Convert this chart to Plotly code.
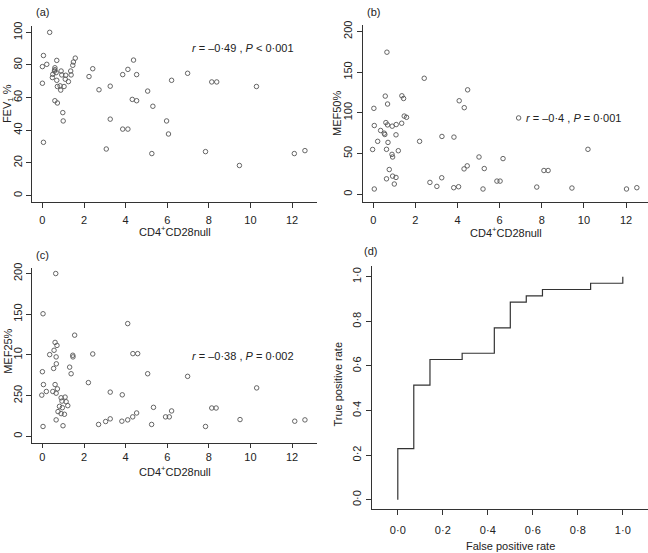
import plotly.graph_objects as go

# panel (a): FEV1 % vs CD4+CD28null
cd28_a = [0.35, 0.05, 0.0, 0.21, 0.0, 0.05, 0.69, 0.6, 0.58, 0.66, 0.5, 0.6, 0.48, 0.69, 0.72,
          0.6, 0.72, 0.98, 1.0, 0.9, 0.93, 0.85, 0.88, 1.04, 1.12, 1.1, 1.25, 1.36, 1.38, 1.46,
          1.49, 1.58, 2.24, 2.42, 2.72, 3.07, 3.26, 3.26, 3.86, 3.86, 4.11, 4.11, 4.32, 4.38,
          4.53, 4.53, 5.06, 5.31, 5.26, 5.97, 6.06, 6.21, 6.98, 7.84, 8.14, 8.38, 9.47, 10.29,
          12.11, 12.62]
fev1 = [100, 85.8, 79, 80.4, 68.8, 32.6, 82.8, 78.3, 76.3, 75.3, 74.3, 77.1, 72.3, 70.6, 66.8,
        58.1, 56.7, 50.8, 45.7, 76.3, 73.9, 67.2, 64.6, 66.8, 73.7, 71.3, 69.8, 76.3, 73.9, 79.8,
        81.8, 84.2, 72.9, 77.7, 64.8, 28.5, 67, 46.8, 74.1, 40.7, 77.3, 40.7, 58.9, 83,
        74.1, 58.1, 64, 54.7, 25.7, 45.7, 37.7, 70.6, 74.9, 26.9, 69.6, 69.6, 18.4, 66.8,
        25.7, 27.5]

# panel (b): MEF50%
cd28_b = [0.05, -0.03, 0.03, 0.05, 0.21, 0.35, 0.52, 0.55, 0.57, 0.6, 0.63, 0.63, 0.65, 0.68,
          0.68, 0.7, 0.76, 0.9, 0.89, 0.92, 0.92, 1.0, 1.08, 1.08, 1.09, 1.19, 1.35, 1.36, 1.44,
          1.47, 1.58, 2.2, 2.42, 2.69, 3.02, 3.26, 3.25, 3.82, 3.83, 4.05, 4.08, 4.32, 4.31,
          4.46, 4.48, 5.02, 5.21, 5.27, 5.87, 6.02, 6.16, 6.9, 7.76, 8.1, 8.3, 9.43, 10.19,
          12.02, 12.51]
mef50 = [6.5, 55, 105.5, 84.4, 65, 78.3, 75, 73.4, 120.5, 88, 55.2, 19, 174.4, 110.8,
         85.2, 63.7, 30.4, 83.6, 49, 45.8, 22.3, 12.6, 20.7, 73, 85.6, 53.5, 87.2, 120.9, 117.6,
         96, 94.5, 65, 142.4, 14.6, 9.7, 71, 20.3, 8.1, 70.2, 9.3, 114.8, 106.3, 31.2,
         34.9, 128.2, 45.8, 6.5, 31.6, 16.2, 16.2, 43.8, 93.7, 8.9, 29.2, 29.2, 7.7, 55.2,
         6.5, 8.1]

# panel (c): MEF25%
cd28_c = [0.64, 0.03, 0.61, 0.7, 0.56, 0.35, 0.66, 0.67, 0.54, 0.0, 0.61, 0.05, 0.72, 0.19,
          0.5, 0.66, -0.03, 0.9, 1.09, 0.94, 1.14, 0.82, 0.96, 1.22, 0.75, 0.9, 1.06, 0.66,
          0.99, 0.03, 1.55, 1.46, 1.47, 1.31, 1.38, 2.21, 2.42, 2.7, 3.04, 3.26, 3.26, 3.82,
          3.84, 4.1, 4.1, 4.35, 4.34, 4.53, 4.58, 5.06, 5.25, 5.34, 5.92, 6.1, 6.21, 6.98,
          7.84, 8.14, 8.35, 9.5, 10.3, 12.13, 12.62]
mef25 = [200, 150.6, 115.4, 111.7, 105.7, 100.4, 97.6, 89.1, 83.4, 79.4, 63.6, 63.6, 58.3, 55.1,
         55.1, 53, 50.6, 47.4, 48.2, 43.3, 42.5, 36.8, 35.2, 37.7, 30.4, 27.9, 27.1, 20.2,
         13, 12.1, 124.3, 99.6, 97.6, 85, 76.9, 66, 101.2, 14.6, 18.2, 21.5, 54.3, 18.6,
         51, 138.5, 20.2, 101.6, 23.9, 28.7, 101.6, 76.9, 14.6, 35.6, 23.9, 23.9, 31.2, 73.7,
         12.1, 34.8, 34.8, 20.6, 59.5, 18.6, 20.2]
mef25_ticks = [0, 50, 100, 150, 200]
mef25_labels = ["0", "250", "10", "150", "200"]

# panel (d): ROC curve
fpr = [0, 0, 0.071, 0.143, 0.286, 0.429, 0.5, 0.571, 0.643, 0.857, 1.0]
tpr = [0, 0.229, 0.514, 0.629, 0.657, 0.771, 0.886, 0.914, 0.943, 0.971, 1.0]
rate_ticks = [0, 0.2, 0.4, 0.6, 0.8, 1.0]
rate_labels = ["0·0", "0·2", "0·4", "0·6", "0·8", "1·0"]

W, H = 648, 553
FONT = "Liberation Sans, Arial, sans-serif"
INK = "#333333"


def px(x0, x1):
    return [x0 / W, x1 / W]


def py(top, bottom):
    return [1 - bottom / H, 1 - top / H]


def axis(domain, rng, **kw):
    d = dict(domain=domain, range=rng, showgrid=False, zeroline=False, showline=True,
             linecolor=INK, linewidth=1, ticks="outside", ticklen=5, tickcolor=INK,
             tickfont=dict(size=11, color="#222"), mirror=False)
    d.update(kw)
    return d


fig = go.Figure()
pt = dict(symbol="circle-open", size=4.5, color="#555", line=dict(width=0.9, color="#555"))
fig.add_trace(go.Scatter(x=cd28_a, y=fev1, mode="markers", marker=pt, xaxis="x", yaxis="y"))
fig.add_trace(go.Scatter(x=cd28_b, y=mef50, mode="markers", marker=pt, xaxis="x2", yaxis="y2"))
fig.add_trace(go.Scatter(x=cd28_c, y=mef25, mode="markers", marker=pt, xaxis="x3", yaxis="y3"))
fig.add_trace(go.Scatter(x=fpr, y=tpr, mode="lines", line=dict(color=INK, width=1.2, shape="hv"),
                         xaxis="x4", yaxis="y4"))

cd_ticks = [0, 2, 4, 6, 8, 10, 12]
fig.update_layout(
    width=W, height=H, margin=dict(l=0, r=0, t=0, b=0),
    paper_bgcolor="white", plot_bgcolor="white", showlegend=False,
    font=dict(family=FONT, size=11, color="#222"),
    xaxis=axis(px(32, 317), [-0.5, 13.2], anchor="y", tickvals=cd_ticks, ticklabelstandoff=3),
    yaxis=axis(py(21, 199), [-4.1, 104], anchor="x", tickvals=[0, 20, 40, 60, 80, 100], tickangle=-90),
    xaxis2=axis(px(362.7, 648), [-0.5, 13.04], anchor="y2", tickvals=cd_ticks, ticklabelstandoff=3),
    yaxis2=axis(py(20, 199), [-9.7, 208], anchor="x2", tickvals=[0, 50, 100, 150, 200], tickangle=-90),
    xaxis3=axis(px(32, 317), [-0.5, 13.2], anchor="y3", tickvals=cd_ticks, ticklen=4),
    yaxis3=axis(py(265, 442), [-8.2, 207.3], anchor="x3", tickvals=mef25_ticks,
                ticktext=mef25_labels, tickangle=-90),
    xaxis4=axis(px(371.7, 648), [-0.116, 1.112], anchor="y4", tickvals=rate_ticks,
                ticktext=rate_labels, ticklabelstandoff=6),
    yaxis4=axis(py(263, 508.3), [-0.04, 1.05], anchor="x4", tickvals=rate_ticks,
                ticktext=rate_labels, tickangle=-90),
)


def note(text, x, y, angle=0, xanchor="center", size=11):
    fig.add_annotation(text=text, x=x / W, y=1 - y / H, xref="paper", yref="paper",
                       showarrow=False, textangle=angle, xanchor=xanchor, yanchor="middle",
                       font=dict(size=size, color="#222", family=FONT))


# panel letters
note("(a)", 34, 7, xanchor="left")
note("(b)", 365, 7, xanchor="left")
note("(c)", 34, 252, xanchor="left")
note("(d)", 362, 248, xanchor="left")

# axis titles
note("CD4<sup>+</sup>CD28null", 175, 228)
note("CD4<sup>+</sup>CD28null", 506, 229)
note("CD4<sup>+</sup>CD28null", 175, 470)
note("False positive rate", 510, 546)
note("FEV<sub>1</sub> %", 8, 100, angle=-90)
note("MEF50%", 337, 110, angle=-90)
note("MEF25%", 8, 350, angle=-90)
note("True positive rate", 338, 383, angle=-90)

# correlation statistics
note("<i>r</i> = –0·49 , <i>P</i> &lt; 0·001", 296, 43, xanchor="right")
note("<i>r</i> = –0·4 , <i>P</i> = 0·001", 623, 114, xanchor="right")
note("<i>r</i> = –0·38 , <i>P</i> = 0·002", 296, 354, xanchor="right")

# the page body has a default 8px margin; drop it so pixels line up
fig.write_html("out.html", config={"displayModeBar": False},
               post_script="document.body.style.margin='0';")
